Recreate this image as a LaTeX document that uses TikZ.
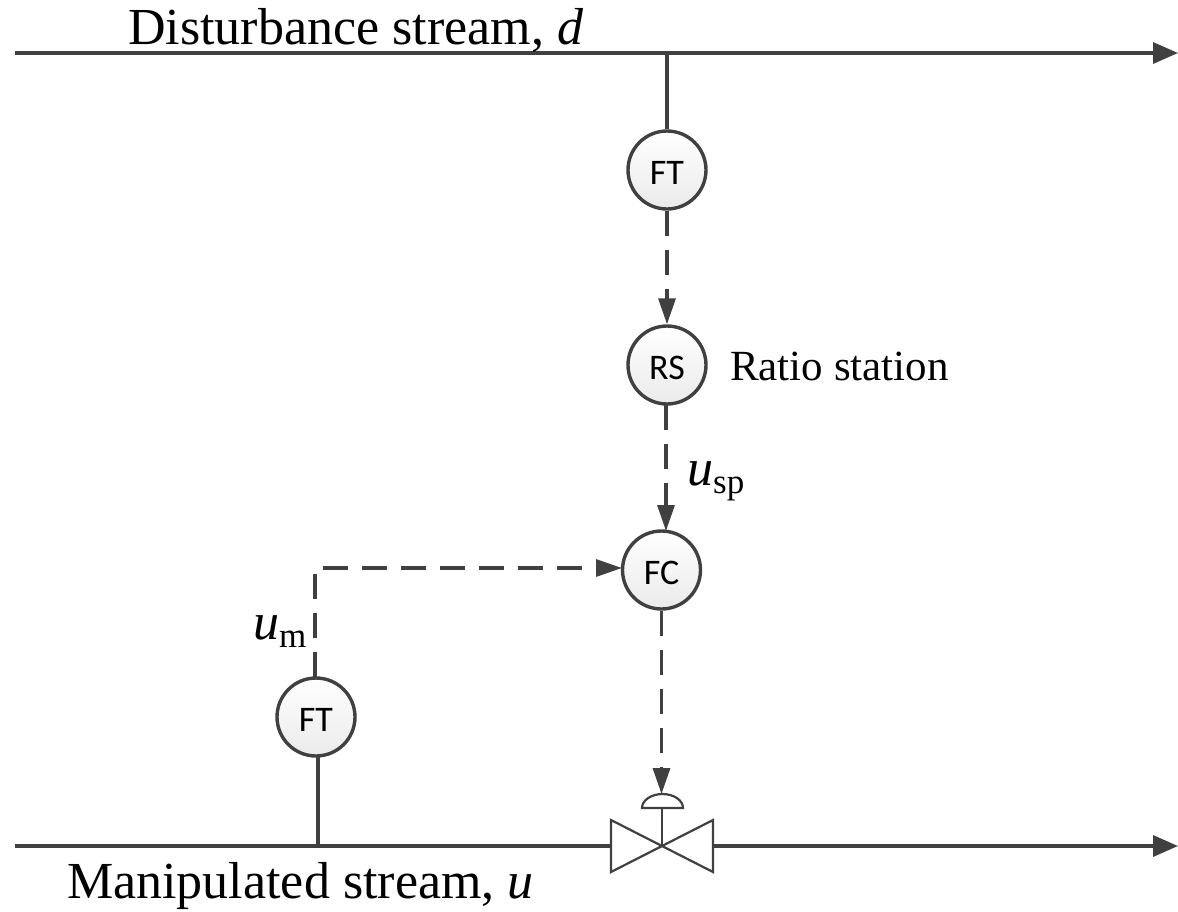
\documentclass[tikz,border=0pt]{standalone}
\usepackage{fontspec}
\setmainfont{Liberation Serif}
\newfontfamily\instfont{Carlito}
\usetikzlibrary{arrows.meta,calc}
\definecolor{linecol}{HTML}{404040}
\tikzset{
  pipe/.style={draw=linecol,line width=3.4pt,-{Triangle[length=25pt,width=21pt]}},
  solidline/.style={draw=linecol,line width=3.2pt},
  signal/.style={draw=linecol,line width=3.2pt,dash pattern=on 25pt off 14pt,-{Triangle[length=26pt,width=17pt]}},
  inst/.style={circle,draw=linecol,line width=3.4pt,minimum size=78pt,inner sep=0pt,top color=white,bottom color=black!8,font=\instfont\fontsize{36}{38}\selectfont,text=black},
  valvepart/.style={draw=linecol,line width=2.2pt,fill=white,line join=miter},
  label/.style={inner sep=0pt,text=black,font=\fontsize{52}{54}\selectfont},
  sublabel/.style={inner sep=0pt,text=black,font=\fontsize{52}{54}\selectfont}
}
\newcommand{\subtxt}[2]{\textit{#1}{\fontsize{35}{36}\selectfont\raisebox{-8pt}{#2}}}
\newcommand{\insttxt}[1]{\raisebox{-2.5pt}[\height][\depth]{#1}}
\begin{document}
\begin{tikzpicture}[x=1pt,y=-1pt]
\useasboundingbox (0,0) rectangle (1178,911);
% instruments
\node[inst] (ft1) at (667,170) {\insttxt{FT}};
\node[inst] (rs) at (667,365) {\insttxt{RS}};
\node[inst] (fc) at (661.5,570) {\insttxt{FC}};
\node[inst] (ft2) at (316,717) {\insttxt{FT}};
% free ends
\coordinate (dl) at (15,53);
\coordinate (dr) at (1178,53);
\coordinate (dt) at (667,53);
\coordinate (ml) at (15,846);
\coordinate (mr) at (1178,846);
\coordinate (mt) at (318,846);
\coordinate (mu) at (318,756);
\coordinate (vc) at (662,846);
\coordinate (vl) at (611,846);
\coordinate (vr) at (713,846);
\coordinate (ftout) at (315,677);
\coordinate (corner) at (315,568);
\coordinate (fcin) at (622,568);
\coordinate (fcsp) at (666,531);
\coordinate (rsout) at (666,405);
\coordinate (act) at (662,808);
\coordinate (acttop) at (661.5,794);
% streams
\draw[pipe] (dl) -- (dr);
\draw[solidline] (vl) -- (ml);
\draw[pipe] (vr) -- (mr);
\draw[solidline] (dt) -- (ft1.north);
\draw[solidline] (mt) -- (mu);
% signals
\draw[signal] (ft1.south) -- (rs.north);
\draw[signal] (rsout) -- (fcsp);
\draw[signal] (ftout) -- (corner) -- (fcin);
\draw[signal] (fc.south) -- (acttop);
% valve
\draw[valvepart] (vc) -- (611,820) -- (611,872) -- cycle;
\draw[valvepart] (vc) -- (713,820) -- (713,872) -- cycle;
\draw[valvepart] (vc) -- (act);
\draw[valvepart] (642,808) arc[start angle=180,end angle=360,x radius=20.5,y radius=14] -- cycle;
% texts
\node[label,anchor=base west] (t1) at (128,44) {Disturbance stream, \textit{d}};
\node[label,anchor=base west] (t2) at (67,898) {Manipulated stream, \textit{u}};
\node[anchor=base west,inner sep=0pt,text=black,font=\fontsize{43}{45}\selectfont] (t3) at (730,380) {Ratio station};
\node[sublabel,anchor=base west] (t4) at (687,485) {\subtxt{u}{sp}};
\node[sublabel,anchor=base west] (t5) at (253,639) {\subtxt{u}{m}};
\end{tikzpicture}
\end{document}
